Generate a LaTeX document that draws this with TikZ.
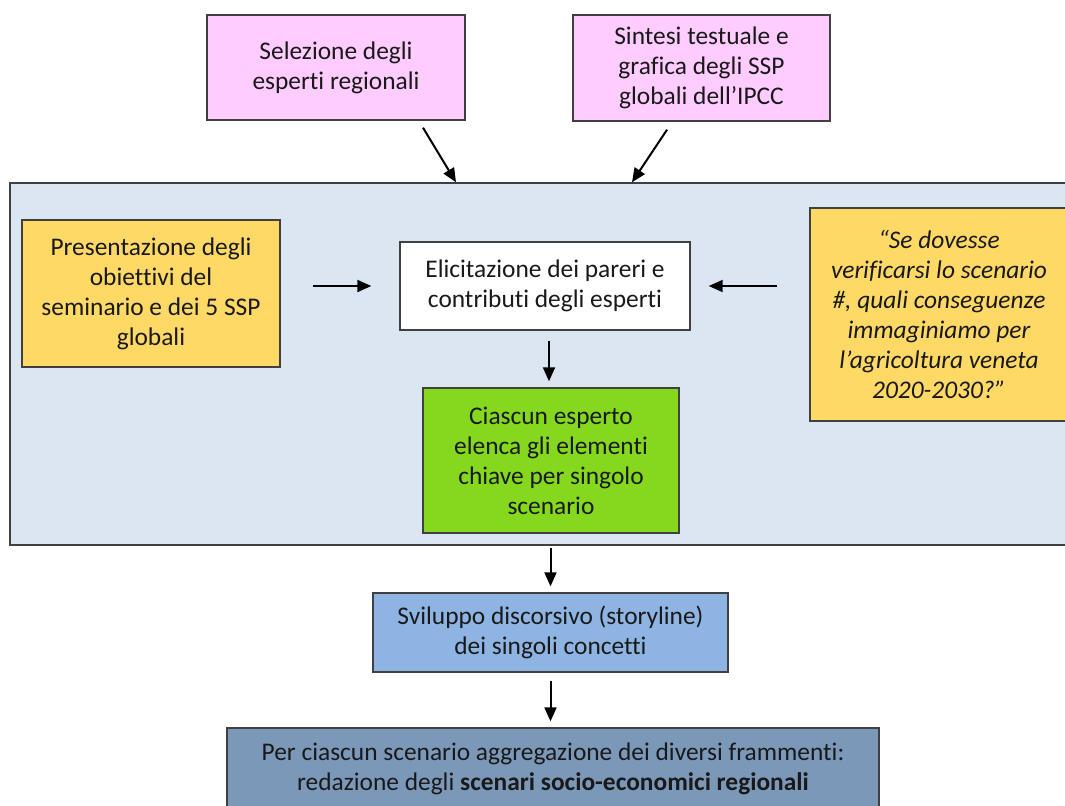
\documentclass[tikz,border=0pt]{standalone}
\usepackage{fontspec}
\setmainfont{Carlito}[Ligatures=NoCommon]
\usetikzlibrary{calc,positioning,arrows,arrows.meta}
\definecolor{rosa}{RGB}{255,204,255}
\definecolor{sfondo}{RGB}{220,230,242}
\definecolor{giallo}{RGB}{255,217,102}
\definecolor{verde}{RGB}{134,216,30}
\definecolor{azzurro}{RGB}{141,180,226}
\definecolor{blu}{RGB}{124,152,184}
\definecolor{bordo}{RGB}{64,64,64}
\begin{document}
\begin{tikzpicture}[x=0.5pt, y=-0.5pt,
 box/.style={draw=bordo, line width=0.7pt, align=center, inner sep=2pt, text=black!90, font=\fontsize{12.7}{15}\selectfont},
 arr/.style={-{Triangle[length=7pt,width=6pt]}, line width=1pt}]
\clip (0,0) rectangle (1065,805);
\node[box, fill=sfondo, minimum width=534pt, minimum height=181pt] (bg) at (544,364) {};
\node[box, fill=rosa, minimum width=129pt, minimum height=52.5pt] (sel) at (336,67.5) {Selezione degli\\esperti regionali};
\node[box, fill=rosa, minimum width=128.5pt, minimum height=53pt] (sint) at (701.5,68) {Sintesi testuale e\\grafica degli SSP\\globali dell’IPCC};
\node[box, fill=giallo, minimum width=129pt, minimum height=73.5pt] (pres) at (151,293.5) {Presentazione degli\\obiettivi del\\seminario e dei 5 SSP\\globali};
\node[box, fill=white, minimum width=145pt, minimum height=44pt] (elic) at (545,286) {Elicitazione dei pareri e\\contributi degli esperti};
\node[box, fill=giallo, minimum width=129pt, minimum height=106.5pt, font=\fontsize{12.7}{15}\selectfont\itshape] (dom) at (939,314.5) {“Se dovesse\\verificarsi lo scenario\\\#, quali conseguenze\\immaginiamo per\\l’agricoltura veneta\\2020-2030?”};
\node[box, fill=verde, minimum width=128pt, minimum height=72.5pt] (elenco) at (551,460.5) {Ciascun esperto\\elenca gli elementi\\chiave per singolo\\scenario};
\node[box, fill=azzurro, minimum width=177.5pt, minimum height=39.5pt] (story) at (550.5,632.5) {Sviluppo discorsivo (storyline)\\dei singoli concetti};
\node[box, fill=blu, minimum width=326pt, minimum height=41pt] (finale) at (553,769) {Per ciascun scenario aggregazione dei diversi frammenti:\\redazione degli \textbf{scenari socio-economici regionali}};
% frecce
\draw[arr] ([shift={(87,7)}]sel.south) -- ([xshift=-44pt]bg.north);
\draw[arr] ([shift={(-34.5,8)}]sint.south) -- ([xshift=44pt]bg.north);
\draw[arr, shorten <=16pt, shorten >=14pt] (pres.east |- elic.west) -- (elic.west);
\draw[arr, shorten <=16pt, shorten >=9pt] (dom.west |- elic.east) -- (elic.east);
\draw[arr, shorten <=5pt, shorten >=3pt] ([xshift=2pt]elic.south) -- ([xshift=-1pt]elenco.north);
\draw[arr, shorten <=1pt, shorten >=3pt] (bg.south -| story.north) -- (story.north);
\draw[arr, shorten <=4pt, shorten >=3pt] (story.south) -- (story.south |- finale.north);
\end{tikzpicture}
\end{document}
